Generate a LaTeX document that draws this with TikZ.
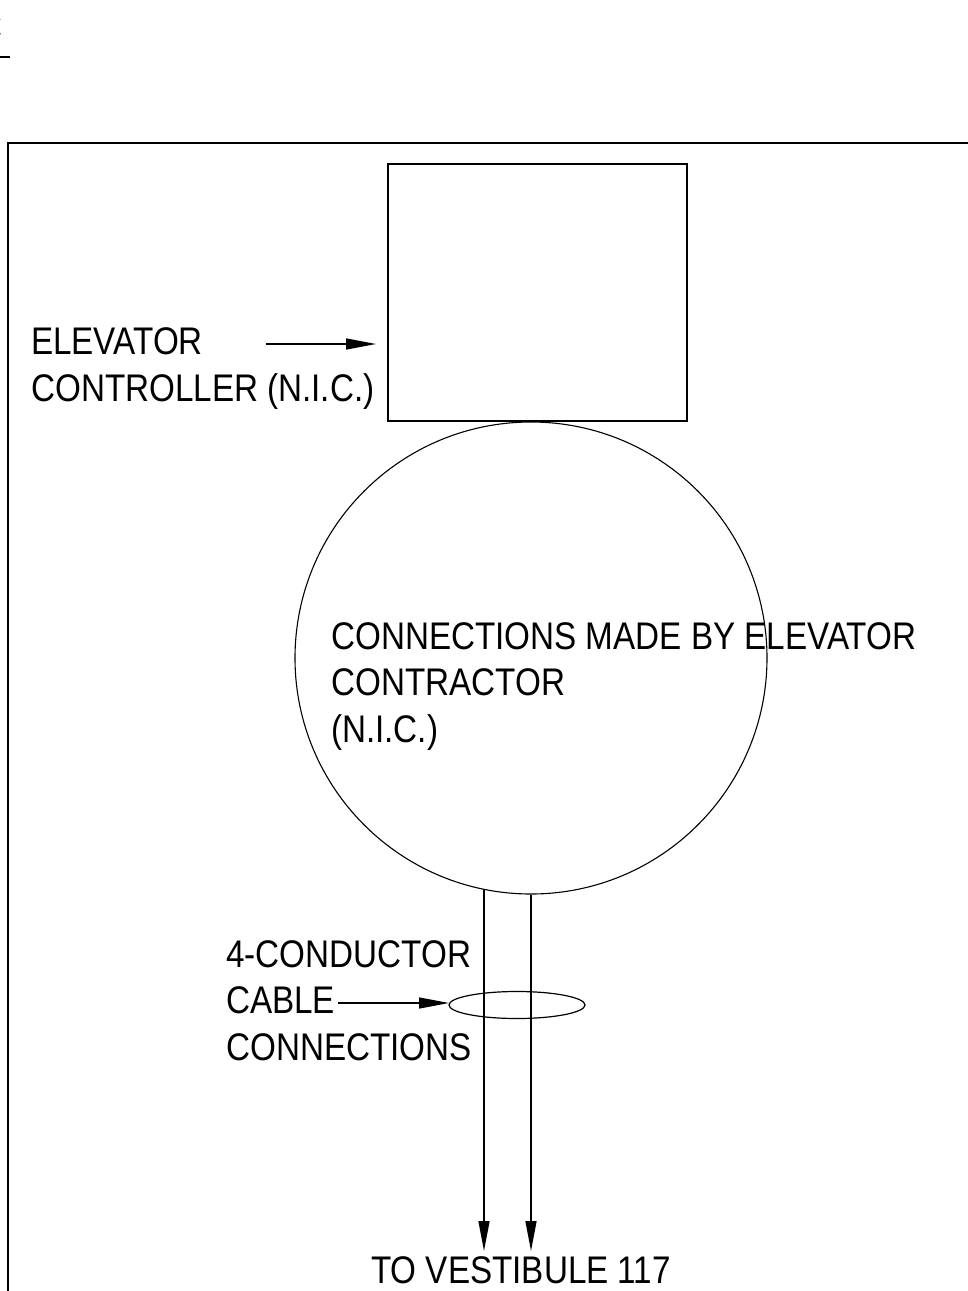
\documentclass[tikz,border=0pt]{standalone}
\usepackage{fontspec}
\setmainfont{Liberation Sans}[FakeStretch=0.863]
\usetikzlibrary{arrows.meta}
\begin{document}
\begin{tikzpicture}[x=1pt,y=-1pt,
  lbl/.style={anchor=base west,inner sep=0pt,font=\fontsize{38.5}{47}\selectfont},
  ln/.style={line width=1.4pt},
  arr/.style={ln,-{Triangle[length=30pt,width=11pt]}}]
\useasboundingbox (0,0) rectangle (968,1291);
\clip (0,0) rectangle (968,1291);
% top-left fragment
\node[lbl,anchor=base east] (frag) at (3,40) {C};
\coordinate (ulA) at (-20,57);
\coordinate (ulB) at (10,57);
\draw[line width=1.6pt] (ulA) -- (ulB);
% frame
\coordinate (fTR) at (972,143);
\coordinate (fTL) at (8,143);
\coordinate (fBL) at (8,1295);
\draw[line width=1.8pt] (fTR) -- (fTL) -- (fBL);
% controller box
\node[draw,ln,minimum width=299pt,minimum height=257pt,inner sep=0pt] (box) at (537.5,292.5) {};
% circle
\node[draw,circle,line width=1.1pt,minimum size=472pt,inner sep=0pt] (circ) at (531,658) {};
% labels
\node[lbl] (elev) at (31,354) {ELEVATOR};
\node[lbl] (ctrl) at (31,401) {CONTROLLER (N.I.C.)};
\coordinate (eA) at (266,344);
\coordinate (eB) at (376,344);
\draw[arr] (eA) -- (eB);
\node[lbl] (conn1) at (331,649) {CONNECTIONS MADE BY ELEVATOR};
\node[lbl] (conn2) at (331,695) {CONTRACTOR};
\node[lbl] (conn3) at (331,742) {(N.I.C.)};
\node[lbl] (c4) at (226,967) {4-CONDUCTOR};
\node[lbl] (cable) at (226,1013) {CABLE};
\node[lbl] (cconn) at (226,1060) {CONNECTIONS};
% cable ellipse
\draw[line width=1.2pt] (517,1005) ellipse [x radius=68pt, y radius=13.5pt];
\coordinate (ellW) at (449,1003);
\coordinate (cA) at (338,1003);
\draw[arr] (cA) -- (ellW);
% conductors
\coordinate (d1) at (484,1251);
\coordinate (d2) at (531,1251);
\coordinate (s1) at (484,889);
\draw[arr] (s1) -- (d1);
\draw[arr] (circ.south) -- (d2);
\node[lbl,anchor=base] (vest) at (521,1283) {TO VESTIBULE 117};
\end{tikzpicture}
\end{document}
